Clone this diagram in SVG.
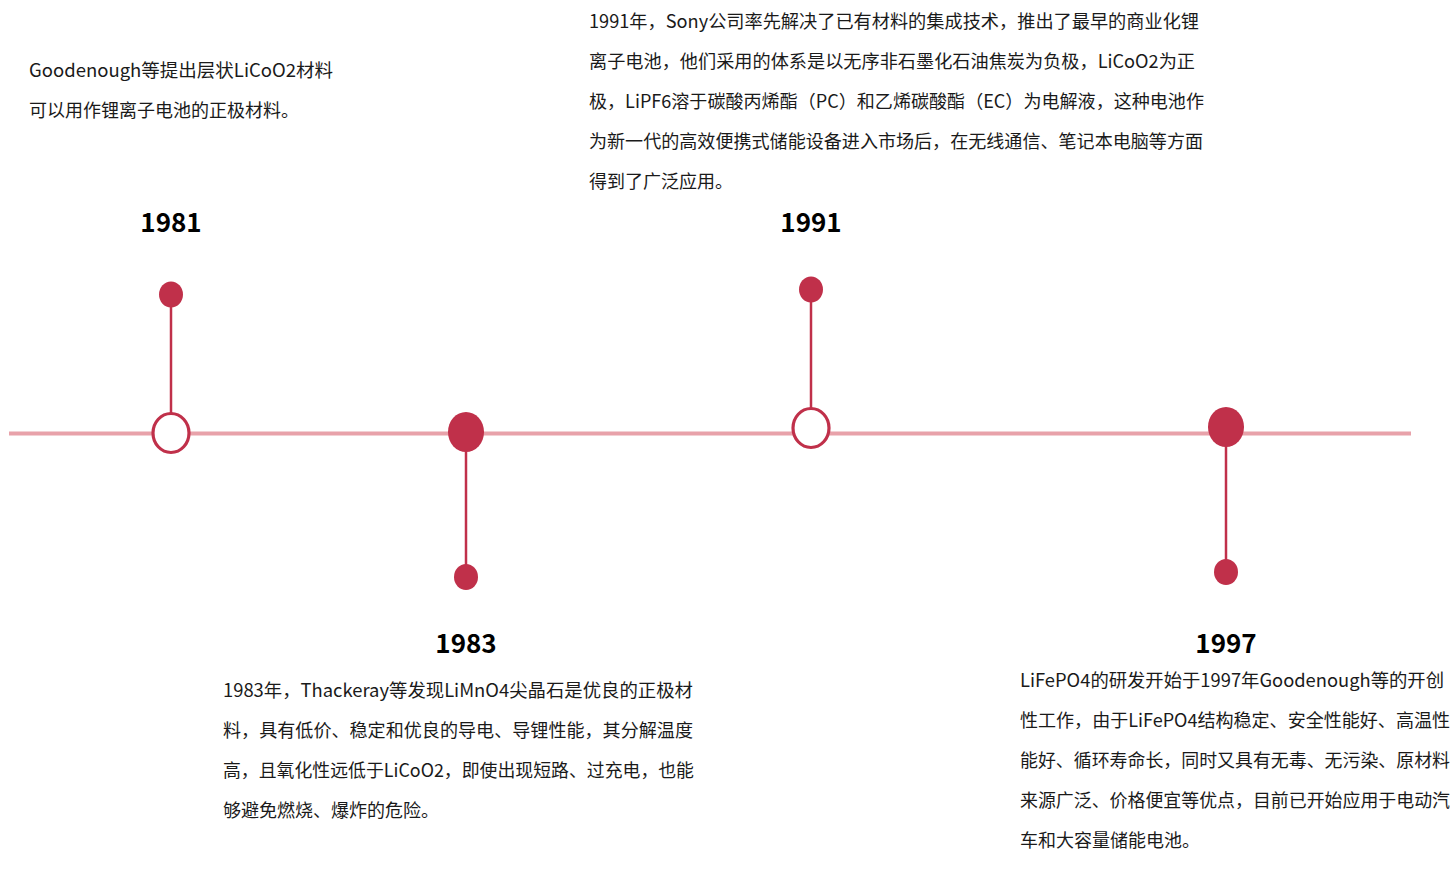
<svg xmlns="http://www.w3.org/2000/svg" width="1453" height="876" viewBox="0 0 1453 876">
<style>
.t{font-family:"Noto Sans CJK SC","Noto Sans",sans-serif;font-size:18px;fill:#1a1a1a}
.y{font-family:"Noto Sans CJK SC","Noto Sans",sans-serif;font-size:26px;font-weight:bold;fill:#000;text-anchor:middle}
.stem{stroke:#c0304a;stroke-width:2.5}
.dot{fill:#c0304a}
.ring{fill:#fff;stroke:#c0304a;stroke-width:3.2}
</style>
<rect width="1453" height="876" fill="#fff"/>
<g id="connectors">
<line x1="9" y1="433.5" x2="1411" y2="433.5" stroke="#e8a2aa" stroke-width="4"/>
<line class="stem" x1="171" y1="294" x2="171" y2="414"/>
<line class="stem" x1="466" y1="432" x2="466" y2="577"/>
<line class="stem" x1="811" y1="289" x2="811" y2="409"/>
<line class="stem" x1="1226" y1="427" x2="1226" y2="572"/>
</g>
<g id="n1981">
<ellipse class="ring" cx="171" cy="433" rx="18" ry="19.5"/>
<ellipse class="dot" cx="171" cy="294.5" rx="12" ry="13"/>
<text class="y" x="171" y="232">1981</text>
<text class="t" x="29" y="77" textLength="304" lengthAdjust="spacingAndGlyphs">Goodenough等提出层状LiCoO2材料</text>
<text class="t" x="29" y="117">可以用作锂离子电池的正极材料。</text>
</g>
<g id="n1983">
<ellipse class="dot" cx="466" cy="432" rx="18" ry="20"/>
<ellipse class="dot" cx="466" cy="577" rx="12" ry="13"/>
<text class="y" x="466" y="653">1983</text>
<text class="t" x="223" y="697" textLength="470" lengthAdjust="spacingAndGlyphs">1983年，Thackeray等发现LiMnO4尖晶石是优良的正极材</text>
<text class="t" x="223" y="737" textLength="470" lengthAdjust="spacingAndGlyphs">料，具有低价、稳定和优良的导电、导锂性能，其分解温度</text>
<text class="t" x="223" y="777" textLength="471" lengthAdjust="spacingAndGlyphs">高，且氧化性远低于LiCoO2，即使出现短路、过充电，也能</text>
<text class="t" x="223" y="817">够避免燃烧、爆炸的危险。</text>
</g>
<g id="n1991">
<ellipse class="ring" cx="811" cy="428" rx="18" ry="19.5"/>
<ellipse class="dot" cx="811" cy="289.5" rx="12" ry="13"/>
<text class="y" x="811" y="232">1991</text>
<text class="t" x="589" y="28" textLength="610" lengthAdjust="spacingAndGlyphs">1991年，Sony公司率先解决了已有材料的集成技术，推出了最早的商业化锂</text>
<text class="t" x="589" y="68" textLength="606" lengthAdjust="spacingAndGlyphs">离子电池，他们采用的体系是以无序非石墨化石油焦炭为负极，LiCoO2为正</text>
<text class="t" x="589" y="108" textLength="615" lengthAdjust="spacingAndGlyphs">极，LiPF6溶于碳酸丙烯酯（PC）和乙烯碳酸酯（EC）为电解液，这种电池作</text>
<text class="t" x="589" y="148" textLength="614" lengthAdjust="spacingAndGlyphs">为新一代的高效便携式储能设备进入市场后，在无线通信、笔记本电脑等方面</text>
<text class="t" x="589" y="188">得到了广泛应用。</text>
</g>
<g id="n1997">
<ellipse class="dot" cx="1226" cy="427" rx="18" ry="20"/>
<ellipse class="dot" cx="1226" cy="572" rx="12" ry="13"/>
<text class="y" x="1226" y="653">1997</text>
<text class="t" x="1020" y="687" textLength="424" lengthAdjust="spacingAndGlyphs">LiFePO4的研发开始于1997年Goodenough等的开创</text>
<text class="t" x="1020" y="727" textLength="430" lengthAdjust="spacingAndGlyphs">性工作，由于LiFePO4结构稳定、安全性能好、高温性</text>
<text class="t" x="1020" y="767" textLength="430" lengthAdjust="spacingAndGlyphs">能好、循环寿命长，同时又具有无毒、无污染、原材料</text>
<text class="t" x="1020" y="807" textLength="430" lengthAdjust="spacingAndGlyphs">来源广泛、价格便宜等优点，目前已开始应用于电动汽</text>
<text class="t" x="1020" y="847">车和大容量储能电池。</text>
</g>
</svg>
